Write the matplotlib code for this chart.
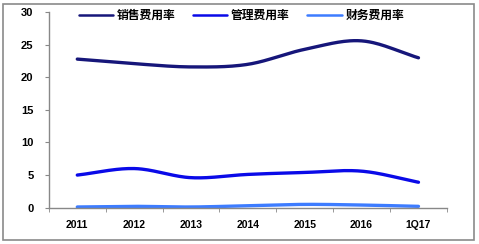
import numpy as np
import matplotlib
matplotlib.use("Agg")
import matplotlib.pyplot as plt
from matplotlib.patches import Rectangle

plt.rcParams['font.family'] = ['Liberation Sans', 'Noto Sans CJK SC', 'DejaVu Sans']

categories = ["2011", "2012", "2013", "2014", "2015", "2016", "1Q17"]
sales_rate = [22.8, 22.1, 21.6, 22.0, 24.3, 25.6, 23.0]
admin_rate = [5.0, 6.0, 4.6, 5.1, 5.4, 5.6, 3.9]
finance_rate = [0.1, 0.2, 0.1, 0.3, 0.5, 0.4, 0.2]
series_names = ["销售费用率", "管理费用率", "财务费用率"]
colors = ["#16167a", "#0a0ae8", "#3d7cff"]
yticks = [0, 5, 10, 15, 20, 25, 30]


def smooth(x, y, n=30):
    x = np.asarray(x, float)
    y = np.asarray(y, float)
    px = np.concatenate([[2 * x[0] - x[1]], x, [2 * x[-1] - x[-2]]])
    py = np.concatenate([[2 * y[0] - y[1]], y, [2 * y[-1] - y[-2]]])
    xs, ys = [], []
    t = np.linspace(0, 1, n)
    for i in range(1, len(px) - 2):
        for arr, out in ((px, xs), (py, ys)):
            p0, p1, p2, p3 = arr[i - 1], arr[i], arr[i + 1], arr[i + 2]
            out.extend(0.5 * ((2 * p1) + (-p0 + p2) * t
                              + (2 * p0 - 5 * p1 + 4 * p2 - p3) * t ** 2
                              + (-p0 + 3 * p1 - 3 * p2 + p3) * t ** 3))
    return np.array(xs), np.array(ys)


fig = plt.figure(figsize=(4.79, 2.44), dpi=100)
ax = fig.add_axes([0.102, 0.149, 0.831, 0.801])

x = np.arange(len(categories))
for vals, name, c in zip([sales_rate, admin_rate, finance_rate], series_names, colors):
    sx, sy = smooth(x, vals)
    ax.plot(sx, sy, color=c, lw=2.4, label=name, solid_capstyle='round')

ax.set_xlim(-0.5, len(categories) - 0.5)
ax.set_ylim(0, 30)
ax.set_yticks(yticks)
ax.set_yticklabels([str(v) for v in yticks], fontsize=8, fontweight='bold')
ax.set_xticks(x)
ax.set_xticklabels(categories, fontsize=7.5, fontweight='bold')
ax.set_xticks(np.arange(-0.5, len(categories) + 0.5, 1), minor=True)
ax.tick_params(axis='x', which='major', length=0, pad=9)
ax.tick_params(axis='x', which='minor', length=3, color='#888888', direction='out')
ax.tick_params(axis='y', length=3, color='#888888', direction='out', pad=8)
for s in ['top', 'right']:
    ax.spines[s].set_visible(False)
for s in ['left', 'bottom']:
    ax.spines[s].set_color('#888888')
    ax.spines[s].set_linewidth(1.0)

leg = ax.legend(loc='upper center', bbox_to_anchor=(0.484, 1.07), ncol=3, frameon=False,
                handlelength=2.9, columnspacing=1.5, handletextpad=0.3,
                prop={'family': ['Noto Sans CJK SC'], 'size': 8.5, 'weight': 'bold'})
for h in leg.get_lines():
    h.set_linewidth(1.8)

fig.patches.append(Rectangle((3 / 479, 4 / 244), 471 / 479, 236 / 244, transform=fig.transFigure,
                             fill=False, edgecolor='#8a8a8a', linewidth=1.2))

fig.savefig("out.png", dpi=100)
